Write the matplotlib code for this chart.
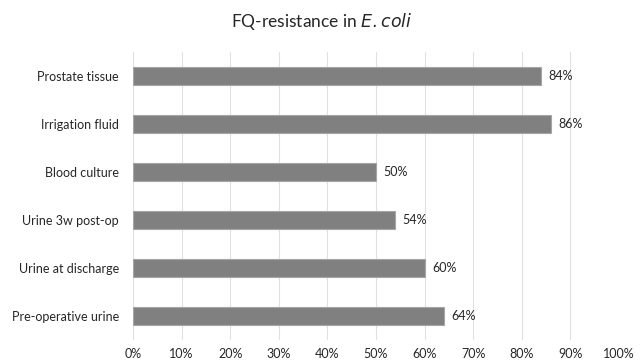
import matplotlib
matplotlib.use("Agg")
import matplotlib.pyplot as plt
from matplotlib.ticker import FuncFormatter

categories = ["Pre-operative urine", "Urine at discharge", "Urine 3w post-op",
              "Blood culture", "Irrigation fluid", "Prostate tissue"]
values = [64, 60, 54, 50, 86, 84]
xticks = [0, 10, 20, 30, 40, 50, 60, 70, 80, 90, 100]

plt.rcParams['font.family'] = ['Lato', 'DejaVu Sans']

fig = plt.figure(figsize=(6.44, 3.61), dpi=100)
ax = fig.add_axes([133/644, 1-340/361, (619-133)/644, (340-52)/361])

ypos = list(range(len(categories)))
ax.barh(ypos, values, height=0.36, color="#808080", edgecolor="#a6a6a6", linewidth=0.8, zorder=3)
for y, v in zip(ypos, values):
    ax.text(v + 1.5, y, f"{v}%", va="center", ha="left", fontsize=9, color="#262626")

ax.set_xlim(0, 100)
ax.set_ylim(-0.5, len(categories) - 0.5)
ax.set_xticks(xticks)
ax.xaxis.set_major_formatter(FuncFormatter(lambda x, p: f"{int(x)}%"))
ax.set_yticks(ypos)
ax.set_yticklabels(categories)
ax.grid(axis="x", color="#e0e0e0", linewidth=0.8, zorder=0)
for s in ax.spines.values():
    s.set_visible(False)
ax.tick_params(axis="both", length=0, labelsize=9, labelcolor="#262626")
ax.tick_params(axis="x", pad=5.5)
ax.tick_params(axis="y", pad=10)

fig.text(0.5, 1-22/361, "FQ-resistance in $\\it{E. coli}$", ha="center", va="center",
         fontsize=12.5, color="#262626")
fig.savefig("out.png", dpi=100)
